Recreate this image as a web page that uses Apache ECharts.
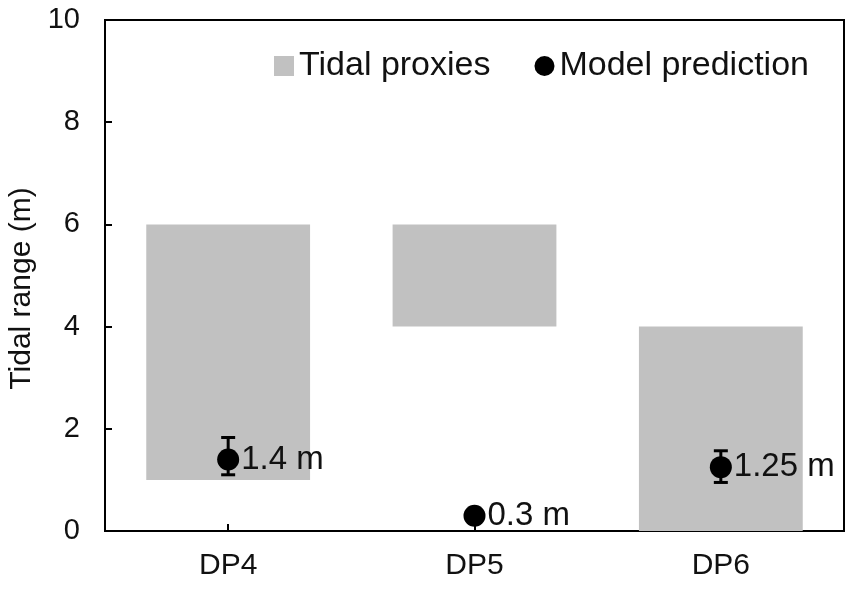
<!DOCTYPE html>
<html>
<head>
<meta charset="utf-8">
<script src="https://cdn.jsdelivr.net/npm/echarts@6/dist/echarts.min.js"></script>
<style>
  html, body { margin: 0; padding: 0; background: #fff; }
  #chart { width: 849px; height: 597px; }
</style>
</head>
<body>
<div id="chart"></div>
<script>
// Sites along the section
const sites = ['DP4', 'DP5', 'DP6'];

// Tidal range bracket implied by sedimentary proxies (m)
const proxyLow = [1, 4, 0];
const proxyHigh = [6, 6, 4];

// Modelled tidal range (m) and its uncertainty band
const modelValue = [1.4, 0.3, 1.25];
const modelLabels = ['1.4 m', '0.3 m', '1.25 m'];
const modelErrLow = [1.1, null, 0.95];
const modelErrHigh = [1.83, null, 1.57];

// Y axis ticks
const yTicks = [0, 2, 4, 6, 8, 10];

const FONT = 'Liberation Sans, Arial, sans-serif';
const TEXT = '#111';
const GREY = '#c1c1c1';

const proxySpan = proxyHigh.map((h, i) => h - proxyLow[i]);

const errData = sites.map((s, i) =>
  modelErrLow[i] == null ? null : [i, modelErrLow[i], modelErrHigh[i]]
).filter(d => d);

const chart = echarts.init(document.getElementById('chart'), null, { renderer: 'canvas' });

chart.setOption({
  animation: false,
  textStyle: { fontFamily: FONT },
  grid: {
    left: 105, right: 5, top: 20, bottom: 66,
    containLabel: false,
    outerBoundsMode: 'none',
    show: true, borderColor: '#000', borderWidth: 2, backgroundColor: 'transparent'
  },
  legend: {
    data: [
      { name: 'Tidal proxies', icon: 'rect' },
      { name: 'Model prediction', icon: 'circle' }
    ],
    left: 269, top: 44,
    itemWidth: 20, itemHeight: 20, itemGap: 44,
    textStyle: { fontSize: 34, color: TEXT, fontFamily: FONT, padding: [0, 0, 0, 0] }
  },
  xAxis: {
    type: 'category',
    data: sites,
    axisLine: { lineStyle: { color: '#000', width: 2 } },
    axisTick: { show: true, inside: true, length: 7, alignWithLabel: true, lineStyle: { color: '#000', width: 2 },
      interval: 0 },
    axisLabel: { fontSize: 30, color: TEXT, margin: 20, fontFamily: FONT },
    splitLine: { show: false }
  },
  yAxis: {
    type: 'value',
    min: yTicks[0], max: yTicks[yTicks.length - 1], interval: 2,
    name: 'Tidal range (m)',
    nameLocation: 'middle',
    nameGap: 50,
    nameTextStyle: { fontSize: 30, color: TEXT, fontFamily: FONT, padding: [0, 26, 0, 0] },
    axisLine: { show: true, lineStyle: { color: '#000', width: 2 } },
    axisTick: { show: true, inside: true, length: 7, lineStyle: { color: '#000', width: 2 } },
    axisLabel: { fontSize: 29, color: TEXT, margin: 25, fontFamily: FONT },
    splitLine: { show: false }
  },
  series: [
    {
      name: 'base',
      type: 'bar',
      stack: 'proxy',
      data: proxyLow,
      itemStyle: { color: 'transparent' },
      barWidth: '66.5%',
      silent: true
    },
    {
      name: 'Tidal proxies',
      type: 'bar',
      stack: 'proxy',
      data: proxySpan,
      itemStyle: { color: GREY },
      barWidth: '66.5%'
    },
    {
      name: 'errorbars',
      type: 'custom',
      data: errData,
      z: 5,
      renderItem: function (params, api) {
        const x = api.value(0);
        const lo = api.coord([x, api.value(1)]);
        const hi = api.coord([x, api.value(2)]);
        const cap = 7;
        const st = { stroke: '#000', lineWidth: 3 };
        return {
          type: 'group',
          children: [
            { type: 'line', shape: { x1: lo[0], y1: lo[1], x2: hi[0], y2: hi[1] }, style: st },
            { type: 'line', shape: { x1: lo[0] - cap, y1: lo[1], x2: lo[0] + cap, y2: lo[1] }, style: st },
            { type: 'line', shape: { x1: hi[0] - cap, y1: hi[1], x2: hi[0] + cap, y2: hi[1] }, style: st }
          ]
        };
      }
    },
    {
      name: 'Model prediction',
      type: 'scatter',
      data: modelValue,
      symbol: 'circle',
      symbolSize: 22,
      z: 6,
      itemStyle: { color: '#000', opacity: 1 },
      label: {
        show: true,
        position: 'right',
        distance: 2,
        fontSize: 33,
        color: TEXT,
        fontFamily: FONT,
        formatter: p => modelLabels[p.dataIndex]
      }
    }
  ]
});
</script>
</body>
</html>
